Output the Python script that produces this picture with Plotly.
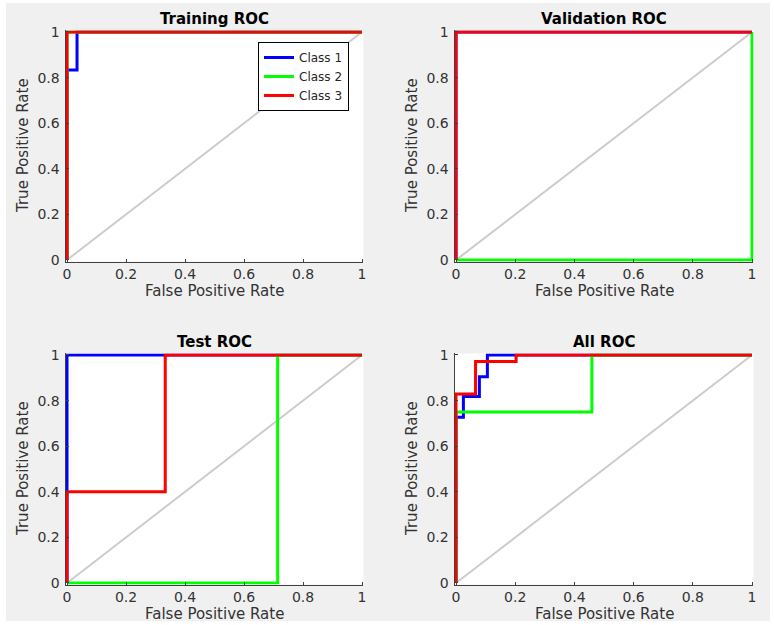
import plotly.graph_objects as go

# ---------------- data ----------------
panel_titles = ["Training ROC", "Validation ROC", "Test ROC", "All ROC"]
class_names = ["Class 1", "Class 2", "Class 3"]
class_colors = ["#0000ff", "#00ff00", "#ff0000"]
tick_vals = [0, 0.2, 0.4, 0.6, 0.8, 1]
tick_text = ["0", "0.2", "0.4", "0.6", "0.8", "1"]

# Training
train_c1_fpr = [0, 0, 0.034, 0.034, 1]
train_c1_tpr = [0, 0.833, 0.833, 1, 1]
train_c2_fpr = [0, 0, 1]
train_c2_tpr = [0, 1, 1]
train_c3_fpr = [0, 0, 1]
train_c3_tpr = [0, 1, 1]

# Validation
val_c1_fpr = [0, 0, 1]
val_c1_tpr = [0, 1, 1]
val_c2_fpr = [0, 1, 1]
val_c2_tpr = [0, 0, 1]
val_c3_fpr = [0, 0, 1]
val_c3_tpr = [0, 1, 1]

# Test
test_c1_fpr = [0, 0, 1]
test_c1_tpr = [0, 1, 1]
test_c2_fpr = [0, 0.714, 0.714, 1]
test_c2_tpr = [0, 0, 1, 1]
test_c3_fpr = [0, 0, 0.333, 0.333, 1]
test_c3_tpr = [0, 0.4, 0.4, 1, 1]

# All
all_c1_fpr = [0, 0, 0.025, 0.025, 0.079, 0.079, 0.106, 0.106, 1]
all_c1_tpr = [0, 0.727, 0.727, 0.818, 0.818, 0.905, 0.905, 1, 1]
all_c2_fpr = [0, 0, 0.459, 0.459, 1]
all_c2_tpr = [0, 0.75, 0.75, 1, 1]
all_c3_fpr = [0, 0, 0.066, 0.066, 0.203, 0.203, 1]
all_c3_tpr = [0, 0.829, 0.829, 0.971, 0.971, 1, 1]

diag_x = [0, 1]
diag_y = [0, 1]

panels = [
    [(train_c1_fpr, train_c1_tpr), (train_c2_fpr, train_c2_tpr), (train_c3_fpr, train_c3_tpr)],
    [(val_c1_fpr, val_c1_tpr), (val_c2_fpr, val_c2_tpr), (val_c3_fpr, val_c3_tpr)],
    [(test_c1_fpr, test_c1_tpr), (test_c2_fpr, test_c2_tpr), (test_c3_fpr, test_c3_tpr)],
    [(all_c1_fpr, all_c1_tpr), (all_c2_fpr, all_c2_tpr), (all_c3_fpr, all_c3_tpr)],
]

# ---------------- layout geometry ----------------
W, H = 774, 625
FONT = "DejaVu Sans, Arial, sans-serif"
col_px = [(67, 362), (456, 752)]
row_px = [(32, 260), (355, 583)]  # (y of 1, y of 0)
padx = 0.005
pady = 0.0066

fig = go.Figure()
layout = dict(
    width=W, height=H,
    margin=dict(l=0, r=0, t=0, b=0, pad=0, autoexpand=False),
    paper_bgcolor="#f0f0f0",
    plot_bgcolor="#ffffff",
    showlegend=True,
    font=dict(family=FONT, color="#262626", size=14),
)
annotations = []

for i, panel in enumerate(panels):
    r, c = divmod(i, 2)
    ax = "" if i == 0 else str(i + 1)
    x0p, x1p = col_px[c]
    ytop, ybot = row_px[r]
    sx = (x1p - x0p)
    sy = (ybot - ytop)
    dom_x = [(x0p - padx * sx) / W, (x1p + padx * sx) / W]
    dom_y = [1 - (ybot + pady * sy) / H, 1 - (ytop - pady * sy) / H]

    axis_common = dict(
        showgrid=False, zeroline=False, automargin=False,
        showline=True, linecolor="#404040", linewidth=1, mirror=False,
        ticks="inside", ticklen=3, tickcolor="#404040", tickwidth=1,
        tickvals=tick_vals, ticktext=tick_text,
        tickfont=dict(family=FONT, size=14, color="#333333"),
        fixedrange=True,
    )
    xa = dict(axis_common, domain=dom_x, range=[-padx, 1 + padx], anchor="y" + ax)
    ya = dict(axis_common, domain=dom_y, range=[-pady, 1 + pady], anchor="x" + ax,
              ticklabelstandoff=2)
    layout["xaxis" + ax] = xa
    layout["yaxis" + ax] = ya

    fig.add_trace(go.Scatter(
        x=diag_x, y=diag_y, mode="lines",
        line=dict(color="#cccccc", width=2),
        xaxis="x" + ax, yaxis="y" + ax, showlegend=False, hoverinfo="skip"))
    for k, (fx, ty) in enumerate(panel):
        fig.add_trace(go.Scatter(
            x=fx, y=ty, mode="lines", name=class_names[k],
            line=dict(color=class_colors[k], width=3),
            xaxis="x" + ax, yaxis="y" + ax, showlegend=(i == 0)))

    cx = (x0p + x1p) / 2 / W
    annotations.append(dict(
        text="<b>" + panel_titles[i] + "</b>", x=cx, y=1 - (ytop - 2) / H,
        xref="paper", yref="paper", xanchor="center", yanchor="bottom",
        showarrow=False, font=dict(family=FONT, size=15, color="#000000")))
    annotations.append(dict(
        text="False Positive Rate", x=cx, y=1 - (ybot + 31) / H,
        xref="paper", yref="paper", xanchor="center", yanchor="middle",
        showarrow=False, font=dict(family=FONT, size=15, color="#333333")))
    annotations.append(dict(
        text="True Positive Rate", x=(x0p - 44) / W, y=1 - (ytop + ybot) / 2 / H,
        xref="paper", yref="paper", xanchor="center", yanchor="middle",
        textangle=-90,
        showarrow=False, font=dict(family=FONT, size=15, color="#333333")))

layout["annotations"] = annotations
layout["legend"] = dict(
    x=349 / W, y=1 - 42 / H, xanchor="right", yanchor="top",
    bgcolor="#ffffff", bordercolor="#000000", borderwidth=1,
    font=dict(family=FONT, size=12, color="#262626"),
    tracegroupgap=0, itemclick=False,
)
# thin white frame around the grey figure
layout["shapes"] = [
    dict(type="rect", xref="paper", yref="paper", x0=0, x1=6 / W, y0=0, y1=1,
         fillcolor="#ffffff", line=dict(width=0), layer="above"),
    dict(type="rect", xref="paper", yref="paper", x0=0, x1=1, y0=1 - 3 / H, y1=1,
         fillcolor="#ffffff", line=dict(width=0), layer="above"),
    dict(type="rect", xref="paper", yref="paper", x0=770 / W, x1=1, y0=0, y1=1,
         fillcolor="#ffffff", line=dict(width=0), layer="above"),
    dict(type="rect", xref="paper", yref="paper", x0=0, x1=1, y0=0, y1=4 / H,
         fillcolor="#ffffff", line=dict(width=0), layer="above"),
]
fig.update_layout(**layout)
fig.write_html(
    "out.html",
    config={"displayModeBar": False},
    post_script="document.body.style.margin='0';document.body.style.overflow='hidden';",
)
